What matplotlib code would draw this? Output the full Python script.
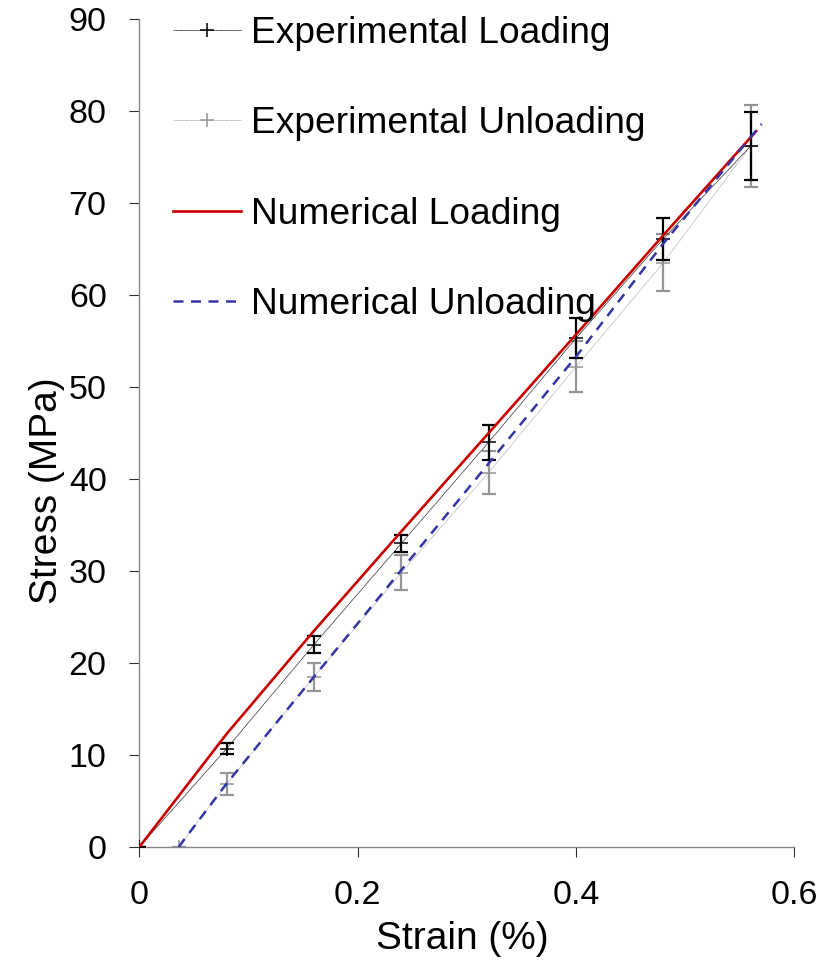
import matplotlib.pyplot as plt

plt.rcParams['font.family'] = ['Liberation Sans', 'DejaVu Sans']

# %% datos experimentales
strain_load = [0.0, 0.08, 0.16, 0.24, 0.32, 0.40, 0.48, 0.56]
stress_load = [0.0, 10.7, 22.0, 33.0, 44.0, 55.3, 66.1, 76.2]
err_load = [0.0, 0.6, 0.9, 0.9, 1.9, 2.2, 2.3, 3.7]

strain_unload = [0.036, 0.08, 0.16, 0.24, 0.32, 0.40, 0.48, 0.56]
stress_unload = [0.0, 6.85, 18.5, 29.8, 40.7, 52.2, 63.5, 76.2]
err_unload = [0.0, 1.2, 1.5, 1.9, 2.3, 2.8, 3.1, 4.5]

# %% datos numericos
strain_num_load = [0.0, 0.08, 0.16, 0.24, 0.32, 0.40, 0.48, 0.565]
stress_num_load = [0.0, 12.3, 23.5, 34.3, 45.0, 55.7, 66.5, 77.8]

strain_num_unload = [0.036, 0.08, 0.16, 0.24, 0.32, 0.40, 0.48, 0.57]
stress_num_unload = [0.0, 6.9, 18.5, 30.1, 41.7, 53.3, 65.6, 78.6]

xticks = [0, 0.2, 0.4, 0.6]
yticks = [0, 10, 20, 30, 40, 50, 60, 70, 80, 90]

fig = plt.figure(figsize=(8.36, 9.63), dpi=100)
ax = fig.add_axes([0.1667, 0.1205, 0.7835, 0.8598])

gris = '#959595'
# barras de error (sin linea)
ax.errorbar(strain_unload, stress_unload, yerr=err_unload, fmt='none',
            ecolor=gris, elinewidth=1.6, capsize=5, capthick=1.6, zorder=2)
ax.errorbar(strain_load, stress_load, yerr=err_load, fmt='none',
            ecolor='black', elinewidth=1.6, capsize=5, capthick=1.6, zorder=3)

l1, = ax.plot(strain_load, stress_load, color='black', lw=0.6,
              ls=(0, (1, 0.5)), marker='+', ms=10, mew=1.1, zorder=3)
l2, = ax.plot(strain_unload, stress_unload, color='#a8a8a8', lw=0.6,
              ls=(0, (1, 0.5)), marker='+', ms=10, mew=1.1, mec=gris, zorder=2)
l3, = ax.plot(strain_num_load, stress_num_load, color='#c80000', lw=1.9,
              zorder=4)
l4, = ax.plot(strain_num_unload, stress_num_unload, color='#3535a5', lw=1.8,
              ls=(0, (4, 3)), zorder=4)

ax.set_xlim(0, 0.6)
ax.set_ylim(0, 90)
ax.set_xticks(xticks)
ax.set_xticklabels(['0', '0.2', '0.4', '0.6'])
ax.set_yticks(yticks)

for s in ['top', 'right']:
    ax.spines[s].set_visible(False)
for s in ['left', 'bottom']:
    ax.spines[s].set_color('#868686')
    ax.spines[s].set_linewidth(1.0)

ax.tick_params(axis='both', direction='out', length=7.5, width=0.8,
               color='#303030', labelsize=24.5)
ax.tick_params(axis='x', pad=16)
ax.tick_params(axis='y', pad=16)

ax.set_xlabel('Strain (%)', fontsize=28)
ax.set_ylabel('Stress (MPa)', fontsize=28)
ax.xaxis.set_label_coords(0.4925, -0.09)
ax.yaxis.set_label_coords(-0.113, 0.43)

ax.legend([l1, l2, l3, l4],
          ['Experimental Loading', 'Experimental Unloading',
           'Numerical Loading', 'Numerical Unloading'],
          loc='upper left', bbox_to_anchor=(0.051, 1.0035), frameon=False,
          fontsize=26.7, handlelength=1.85, handletextpad=0.25,
          labelspacing=1.49, borderpad=0, borderaxespad=0)

fig.savefig('out.png', dpi=100)
